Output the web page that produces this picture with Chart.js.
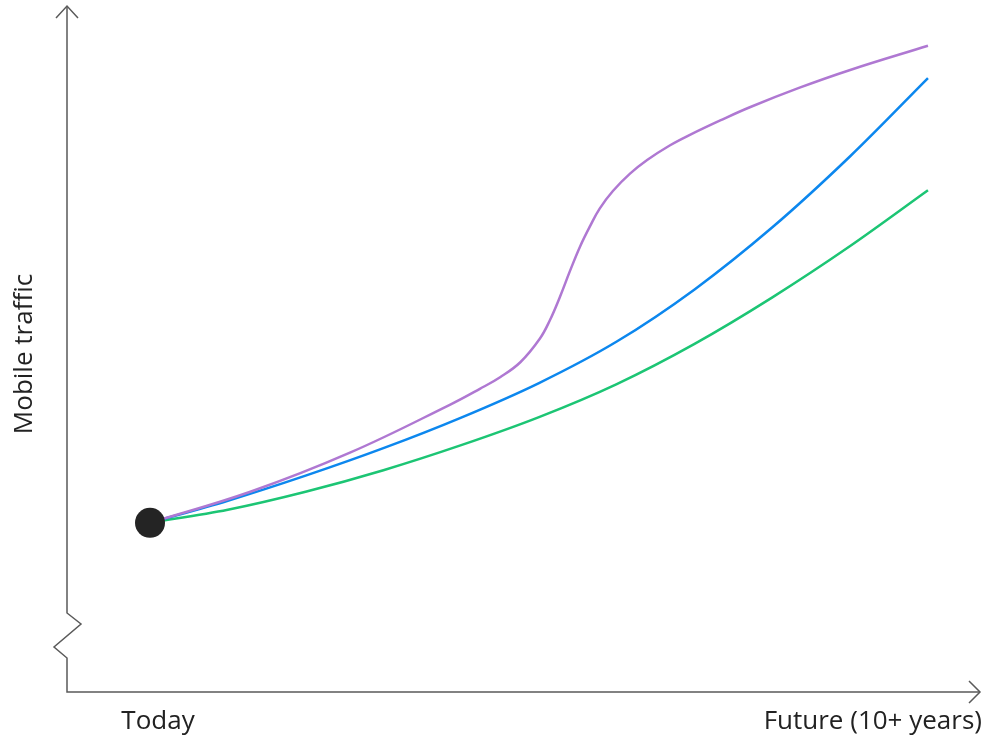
<!DOCTYPE html>
<html lang="en">
<head>
  <meta charset="UTF-8">
  <title>Mobile traffic scenarios</title>
  <script src="https://cdn.jsdelivr.net/npm/chart.js"></script>
  <style>
    html, body { margin: 0; padding: 0; background: #fff; }
    #trafficChart { display: block; }
  </style>
</head>
<body>
  <canvas id="trafficChart" width="984" height="739"></canvas>

  <script>
    // x = years from today (0..10), y = traffic (arbitrary units, 0..100)
    const purpleX = [0, 1.29, 2.57, 3.86, 4.24, 4.5, 4.76, 5.01, 5.14, 5.27, 5.4, 5.53, 5.66, 5.78,
                     5.95, 6.17, 6.39, 6.68, 6.94, 7.33, 7.71, 8.35, 9.0, 10];
    const purpleY = [24.74, 29.28, 34.99, 42.02, 44.32, 46.02, 48.21, 51.64, 54.35, 57.79, 61.6, 65.18, 68.18, 70.67,
                     73.24, 75.78, 77.77, 79.9, 81.45, 83.56, 85.49, 88.35, 90.94, 94.48];

    const blueX = [0, 1, 2, 3, 4, 5, 6, 7, 8, 9, 10];
    const blueY = [24.74, 27.96, 31.63, 35.65, 40.12, 45.17, 51.24, 58.86, 67.94, 78.33, 89.75];

    const greenX = [0, 1, 2, 3, 4, 5, 6, 7, 8, 9, 10];
    const greenY = [24.74, 26.65, 29.28, 32.43, 36.09, 40.19, 45.02, 50.9, 57.7, 65.2, 73.35];

    const todayPoint = [{ x: 0, y: 24.74 }];

    const xLabels = ['Today', 'Future (10+ years)'];
    const yLabel = 'Mobile traffic';

    function toPoints(xs, ys) {
      return xs.map((x, i) => ({ x: x, y: ys[i] }));
    }

    // axes with arrows, the y-axis break and the text labels
    const axisPlugin = {
      id: 'axisPlugin',
      afterDraw(chart) {
        const ctx = chart.ctx;
        const xs = chart.scales.x;
        const a = chart.chartArea;
        const x0 = a.left;
        const y0 = a.bottom;
        ctx.save();
        ctx.strokeStyle = '#5a5a5a';
        ctx.lineWidth = 1.5;
        ctx.lineJoin = 'miter';
        ctx.beginPath();
        ctx.moveTo(x0, a.top - 2);
        ctx.lineTo(x0, 613);
        ctx.lineTo(x0 + 14, 624);
        ctx.lineTo(x0 - 13, 647);
        ctx.lineTo(x0, 658);
        ctx.lineTo(x0, y0);
        ctx.lineTo(a.right + 1, y0);
        ctx.stroke();
        // top arrow
        ctx.beginPath();
        ctx.moveTo(x0 - 11, a.top + 10);
        ctx.lineTo(x0, a.top - 2);
        ctx.lineTo(x0 + 11, a.top + 10);
        ctx.stroke();
        // right arrow
        ctx.beginPath();
        ctx.moveTo(a.right - 10, y0 - 11);
        ctx.lineTo(a.right + 1, y0);
        ctx.lineTo(a.right - 10, y0 + 11);
        ctx.stroke();

        ctx.fillStyle = '#222';
        ctx.font = '26px "Open Sans", "Noto Sans", sans-serif';
        ctx.textBaseline = 'middle';
        ctx.textAlign = 'center';
        ctx.fillText(xLabels[0], xs.getPixelForValue(0) + 8, 722);
        ctx.textAlign = 'right';
        ctx.fillText(xLabels[1], 982, 722);

        ctx.translate(25, 354);
        ctx.rotate(-Math.PI / 2);
        ctx.textAlign = 'center';
        ctx.fillText(yLabel, 0, 0);
        ctx.restore();
      }
    };

    const lineStyle = {
      borderWidth: 2.5,
      pointRadius: 0,
      fill: false,
      cubicInterpolationMode: 'monotone',
      clip: false,
      order: 1
    };

    const ctx = document.getElementById('trafficChart').getContext('2d');
    new Chart(ctx, {
      type: 'line',
      data: {
        datasets: [
          Object.assign({}, lineStyle, {
            label: 'Purple', data: toPoints(purpleX, purpleY), borderColor: '#AF78D2',
            cubicInterpolationMode: 'default', tension: 0.4
          }),
          Object.assign({ label: 'Blue', data: toPoints(blueX, blueY), borderColor: '#0C87EE' }, lineStyle),
          Object.assign({ label: 'Green', data: toPoints(greenX, greenY), borderColor: '#1CC574' }, lineStyle),
          {
            label: 'Today',
            data: todayPoint,
            showLine: false,
            pointRadius: 15,
            pointBackgroundColor: '#242424',
            pointBorderWidth: 0,
            clip: false,
            order: 0
          }
        ]
      },
      options: {
        responsive: false,
        animation: false,
        layout: { autoPadding: false, padding: { left: 67, right: 5, top: 8, bottom: 47 } },
        plugins: {
          legend: { display: false },
          tooltip: { enabled: false }
        },
        scales: {
          x: { type: 'linear', display: false, min: -1.067, max: 10.656 },
          y: { display: false, min: 0, max: 100 }
        }
      },
      plugins: [axisPlugin]
    });
  </script>
</body>
</html>
